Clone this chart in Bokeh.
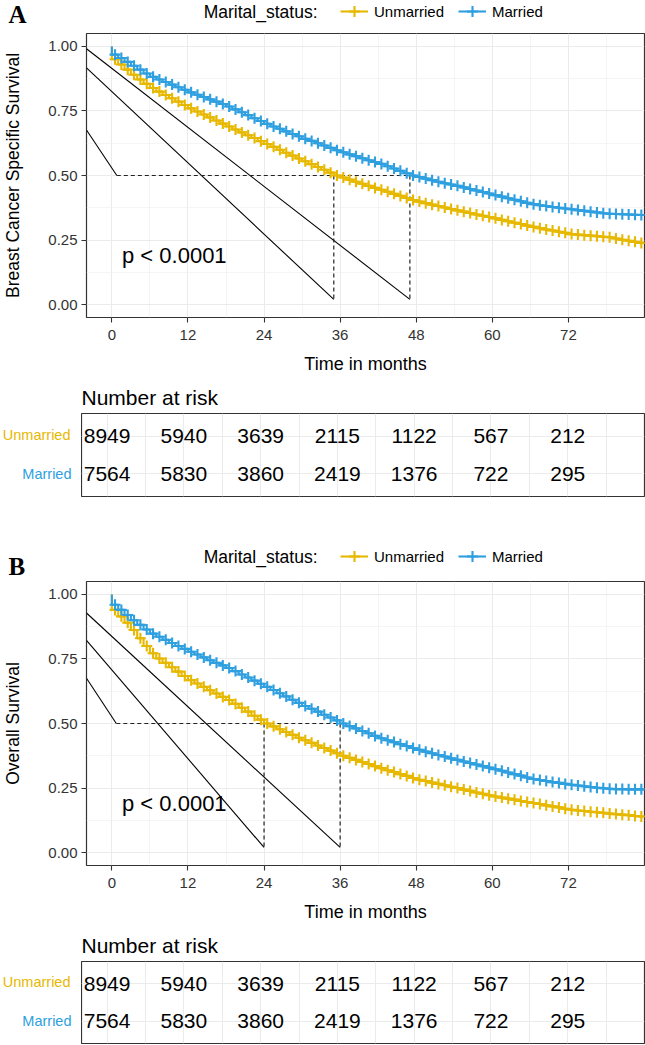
from bokeh.plotting import figure
from bokeh.layouts import column, row
from bokeh.models import (Range1d, FixedTicker, Legend, LegendItem, NumeralTickFormatter)
from bokeh.core.properties import value
from bokeh.embed import file_html
from bokeh.resources import INLINE

# ---------------- data ----------------
MONTHS = list(range(0, 85))

A_UNMARRIED = [0.950, 0.930, 0.910, 0.890, 0.872, 0.855, 0.839, 0.825, 0.812, 0.799,
               0.786, 0.773, 0.760, 0.748, 0.736, 0.725, 0.713, 0.701, 0.690, 0.678,
               0.667, 0.656, 0.645, 0.633, 0.622, 0.611, 0.600, 0.588, 0.577, 0.566,
               0.555, 0.544, 0.533, 0.522, 0.511, 0.500, 0.492, 0.484, 0.476, 0.468,
               0.460, 0.452, 0.445, 0.437, 0.429, 0.421, 0.413, 0.405, 0.399, 0.393,
               0.387, 0.382, 0.376, 0.370, 0.365, 0.360, 0.355, 0.349, 0.344, 0.339,
               0.334, 0.328, 0.323, 0.317, 0.312, 0.306, 0.301, 0.296, 0.291, 0.287,
               0.282, 0.278, 0.273, 0.271, 0.269, 0.267, 0.265, 0.263, 0.261, 0.256,
               0.251, 0.247, 0.243, 0.239, 0.237]
A_MARRIED = [0.968, 0.955, 0.940, 0.925, 0.910, 0.895, 0.882, 0.872, 0.862, 0.852,
             0.842, 0.832, 0.822, 0.813, 0.804, 0.795, 0.786, 0.777, 0.767, 0.756,
             0.745, 0.734, 0.722, 0.711, 0.700, 0.690, 0.681, 0.671, 0.661, 0.652,
             0.642, 0.634, 0.625, 0.616, 0.607, 0.598, 0.590, 0.582, 0.575, 0.567,
             0.559, 0.552, 0.545, 0.536, 0.527, 0.518, 0.509, 0.500, 0.494, 0.488,
             0.482, 0.476, 0.470, 0.465, 0.460, 0.454, 0.448, 0.442, 0.436, 0.430,
             0.424, 0.418, 0.412, 0.406, 0.400, 0.394, 0.389, 0.385, 0.382, 0.378,
             0.375, 0.372, 0.369, 0.366, 0.363, 0.360, 0.357, 0.354, 0.352, 0.351,
             0.350, 0.349, 0.348, 0.347, 0.347]
B_UNMARRIED = [0.940, 0.915, 0.890, 0.862, 0.830, 0.800, 0.772, 0.752, 0.735, 0.718,
               0.701, 0.684, 0.668, 0.655, 0.642, 0.629, 0.616, 0.603, 0.591, 0.576,
               0.561, 0.546, 0.530, 0.515, 0.500, 0.489, 0.478, 0.467, 0.456, 0.445,
               0.435, 0.425, 0.415, 0.405, 0.395, 0.385, 0.375, 0.367, 0.359, 0.351,
               0.343, 0.335, 0.327, 0.319, 0.312, 0.304, 0.297, 0.289, 0.282, 0.277,
               0.271, 0.266, 0.261, 0.255, 0.250, 0.244, 0.239, 0.233, 0.228, 0.222,
               0.217, 0.213, 0.209, 0.205, 0.200, 0.196, 0.192, 0.188, 0.183, 0.179,
               0.175, 0.170, 0.166, 0.163, 0.161, 0.158, 0.156, 0.154, 0.151, 0.149,
               0.147, 0.145, 0.142, 0.140, 0.138]
B_MARRIED = [0.960, 0.940, 0.920, 0.900, 0.882, 0.864, 0.848, 0.836, 0.824, 0.812,
             0.800, 0.789, 0.778, 0.767, 0.756, 0.745, 0.735, 0.725, 0.715, 0.703,
             0.690, 0.678, 0.666, 0.654, 0.642, 0.630, 0.617, 0.605, 0.592, 0.580,
             0.568, 0.557, 0.546, 0.534, 0.523, 0.512, 0.500, 0.490, 0.481, 0.471,
             0.462, 0.452, 0.443, 0.435, 0.428, 0.420, 0.413, 0.405, 0.398, 0.391,
             0.385, 0.378, 0.372, 0.365, 0.359, 0.353, 0.347, 0.341, 0.335, 0.329,
             0.323, 0.317, 0.310, 0.304, 0.298, 0.291, 0.285, 0.281, 0.277, 0.273,
             0.270, 0.266, 0.263, 0.260, 0.257, 0.254, 0.251, 0.249, 0.247, 0.246,
             0.246, 0.245, 0.245, 0.245, 0.245]

GROUPS = ["Unmarried", "Married"]
COLORS = ["#E7B800", "#2E9FDF"]
LEGEND_TITLE = "Marital_status:"

RISK_TIMES = [0, 12, 24, 36, 48, 60, 72]
RISK_UNMARRIED = [8949, 5940, 3639, 2115, 1122, 567, 212]
RISK_MARRIED = [7564, 5830, 3860, 2419, 1376, 722, 295]

X_TICKS = [0, 12, 24, 36, 48, 60, 72]
X_MINOR = [6, 18, 30, 42, 54, 66, 78]
Y_TICKS = [0.0, 0.25, 0.5, 0.75, 1.0]
Y_MINOR = [0.125, 0.375, 0.625, 0.875]

A_MEDIANS = [35, 47]
B_MEDIANS = [24, 36]
# stray straight lines drawn in the original panels
A_DIAG_X0 = [-4, -4, -4]
A_DIAG_Y0 = [0.991, 0.917, 0.676]
A_DIAG_X1 = [47, 35, 0.78]
A_DIAG_Y1 = [0.02, 0.02, 0.5]
B_DIAG_X0 = [-4, -4, -4]
B_DIAG_Y0 = [0.928, 0.822, 0.675]
B_DIAG_X1 = [36, 24, 0.7]
B_DIAG_Y1 = [0.02, 0.02, 0.5]

P_TEXT = "p < 0.0001"
P_POS = (1.6, 0.19)

FONT = "Liberation Sans"
W = 645
LEFT = 81
RIGHT = 1
FRAME_H = 284
BOTTOM = 62
CURVE_W = 2.1


def bare(p):
    p.axis.visible = False
    p.grid.visible = False
    p.outline_line_color = None
    p.background_fill_color = "white"
    p.border_fill_color = "white"


def header(letter, h, center, letter_mid, unm, mar):
    p = figure(width=W, height=h, x_range=Range1d(0, W), y_range=Range1d(h, 0),
               output_backend="svg", toolbar_location=None, frame_align=False,
               min_border_left=0, min_border_right=0, min_border_top=0, min_border_bottom=0)
    bare(p)
    items = []
    for name, vals, col in zip(GROUPS, [unm, mar], COLORS):
        # hidden copies of the curves, only used for the legend keys
        r1 = p.line(x=MONTHS, y=vals, line_color=col, line_width=CURVE_W, visible=False)
        r2 = p.scatter(x=MONTHS, y=vals, marker="cross", line_color=col,
                       line_width=CURVE_W, visible=False)
        items.append(LegendItem(label=name, renderers=[r1, r2]))
    leg = Legend(items=items, orientation="horizontal", location=(340, h - center - 14),
                 glyph_width=28, glyph_height=28, label_standoff=6, spacing=14,
                 padding=0, margin=0, border_line_color=None,
                 background_fill_alpha=0, label_text_font=FONT,
                 label_text_font_size="15px", label_text_baseline="middle",
                 label_text_color="black")
    p.add_layout(leg)
    p.text(x=[317], y=[center], text=[LEGEND_TITLE], text_font=value(FONT),
           text_font_size="17.5px", text_align="right", text_baseline="middle",
           text_color="black")
    p.text(x=[8], y=[letter_mid], text=[letter], text_font=value("Liberation Serif"),
           text_font_style="bold", text_font_size="25px", text_align="left",
           text_baseline="middle", text_color="black")
    return p


def style_grid(p, yticks, yminor):
    p.xgrid.ticker = FixedTicker(ticks=X_TICKS, minor_ticks=X_MINOR)
    p.ygrid.ticker = FixedTicker(ticks=yticks, minor_ticks=yminor)
    for g in (p.xgrid, p.ygrid):
        g.grid_line_color = "#EBEBEB"
        g.grid_line_width = 1.1
        g.minor_grid_line_color = "#EFEFEF"
        g.minor_grid_line_width = 0.6
    p.outline_line_color = "#333333"
    p.outline_line_width = 1.2
    p.background_fill_color = "white"
    p.border_fill_color = "white"


def km_plot(unm, mar, medians, dx0, dy0, dx1, dy1, ytitle):
    p = figure(width=W, height=1 + FRAME_H + BOTTOM,
               x_range=Range1d(-4, 84), y_range=Range1d(-0.05, 1.05),
               output_backend="svg", toolbar_location=None, frame_align=False,
               min_border_left=LEFT, min_border_right=RIGHT,
               min_border_top=1, min_border_bottom=BOTTOM)
    style_grid(p, Y_TICKS, Y_MINOR)

    p.xaxis.ticker = FixedTicker(ticks=X_TICKS)
    p.yaxis.ticker = FixedTicker(ticks=Y_TICKS)
    p.yaxis.formatter = NumeralTickFormatter(format="0.00")
    p.xaxis.axis_label = "Time in months"
    p.yaxis.axis_label = ytitle
    for ax in (p.xaxis[0], p.yaxis[0]):
        ax.axis_line_color = None
        ax.major_tick_line_color = "#333333"
        ax.major_tick_line_width = 1.1
        ax.major_tick_out = 5
        ax.major_tick_in = 0
        ax.minor_tick_line_color = None
        ax.major_label_text_font = FONT
        ax.major_label_text_font_size = "15px"
        ax.major_label_text_color = "#333333"
        ax.axis_label_text_font = FONT
        ax.axis_label_text_font_style = "normal"
        ax.axis_label_text_color = "black"
    p.xaxis.major_label_standoff = 7
    p.yaxis.major_label_standoff = 4
    p.xaxis.axis_label_text_font_size = "18px"
    p.xaxis.axis_label_standoff = 11
    p.yaxis.axis_label_text_font_size = "17.5px"
    p.yaxis.axis_label_standoff = 22

    p.segment(x0=dx0, y0=dy0, x1=dx1, y1=dy1, line_color="black", line_width=1.1)
    p.segment(x0=[dx1[2]], y0=[0.5], x1=[max(medians)], y1=[0.5],
              line_color="#222222", line_width=1.2, line_dash="4 3")
    p.segment(x0=medians, y0=[0.5] * len(medians), x1=medians, y1=[0.02] * len(medians),
              line_color="#222222", line_width=1.2, line_dash="4 3")

    for vals, col in zip([unm, mar], COLORS):
        xs = [0] + MONTHS
        ys = [1.0] + vals
        p.step(xs, ys, mode="after", line_color=col, line_width=CURVE_W)
        p.scatter([m + 0.5 for m in MONTHS[:-1]], vals[:-1], marker="cross",
                  size=11, line_width=CURVE_W, line_color=col)

    p.text(x=[P_POS[0]], y=[P_POS[1]], text=[P_TEXT], text_font=value(FONT),
           text_font_size="22px", text_align="left", text_baseline="middle",
           text_color="black")
    return p


def risk_table(top, bottom):
    h = top + 84 + bottom
    lab = figure(width=LEFT, height=h, x_range=Range1d(0, LEFT), y_range=Range1d(0.4, 2.6),
                 output_backend="svg", toolbar_location=None, frame_align=False,
                 min_border_left=0, min_border_right=0,
                 min_border_top=top, min_border_bottom=bottom)
    bare(lab)
    lab.text(x=[70, 71], y=[2, 1], text=GROUPS, text_color=COLORS,
             text_font=value(FONT), text_font_size="14.5px", text_align="right",
             text_baseline="middle")

    p = figure(width=W - LEFT, height=h, title="Number at risk",
               x_range=Range1d(-4, 84), y_range=Range1d(0.4, 2.6),
               output_backend="svg", toolbar_location=None, frame_align=False,
               min_border_left=0, min_border_right=RIGHT,
               min_border_top=top, min_border_bottom=bottom)
    style_grid(p, [1, 2], [])
    p.xgrid.minor_grid_line_color = "#EBEBEB"
    p.xgrid.minor_grid_line_width = 1.1
    p.xaxis.visible = False
    p.yaxis.visible = False
    p.title.text_font = FONT
    p.title.text_font_size = "21px"
    p.title.text_font_style = "normal"
    p.title.text_color = "black"
    p.title.align = "left"
    p.title.standoff = 9
    p.title.offset = 0
    for r, counts in zip([2, 1], [RISK_UNMARRIED, RISK_MARRIED]):
        p.text(x=RISK_TIMES, y=[r] * len(RISK_TIMES), text=[str(c) for c in counts],
               text_font=value(FONT), text_font_size="21px", text_align="center",
               text_baseline="middle", text_color="black")
    return row(lab, p, spacing=0)


hA = header("A", 32, 11, 14, A_UNMARRIED, A_MARRIED)
pA = km_plot(A_UNMARRIED, A_MARRIED, A_MEDIANS, A_DIAG_X0, A_DIAG_Y0, A_DIAG_X1,
             A_DIAG_Y1, "Breast Cancer Specific Survival")
tA = risk_table(33, 4)
hB = header("B", 80, 56, 66, B_UNMARRIED, B_MARRIED)
pB = km_plot(B_UNMARRIED, B_MARRIED, B_MEDIANS, B_DIAG_X0, B_DIAG_Y0, B_DIAG_X1,
             B_DIAG_Y1, "Overall Survival")
tB = risk_table(32, 1)

layout = column(hA, pA, tA, hB, pB, tB, spacing=0)
open("out.html", "w").write(file_html(layout, INLINE))
